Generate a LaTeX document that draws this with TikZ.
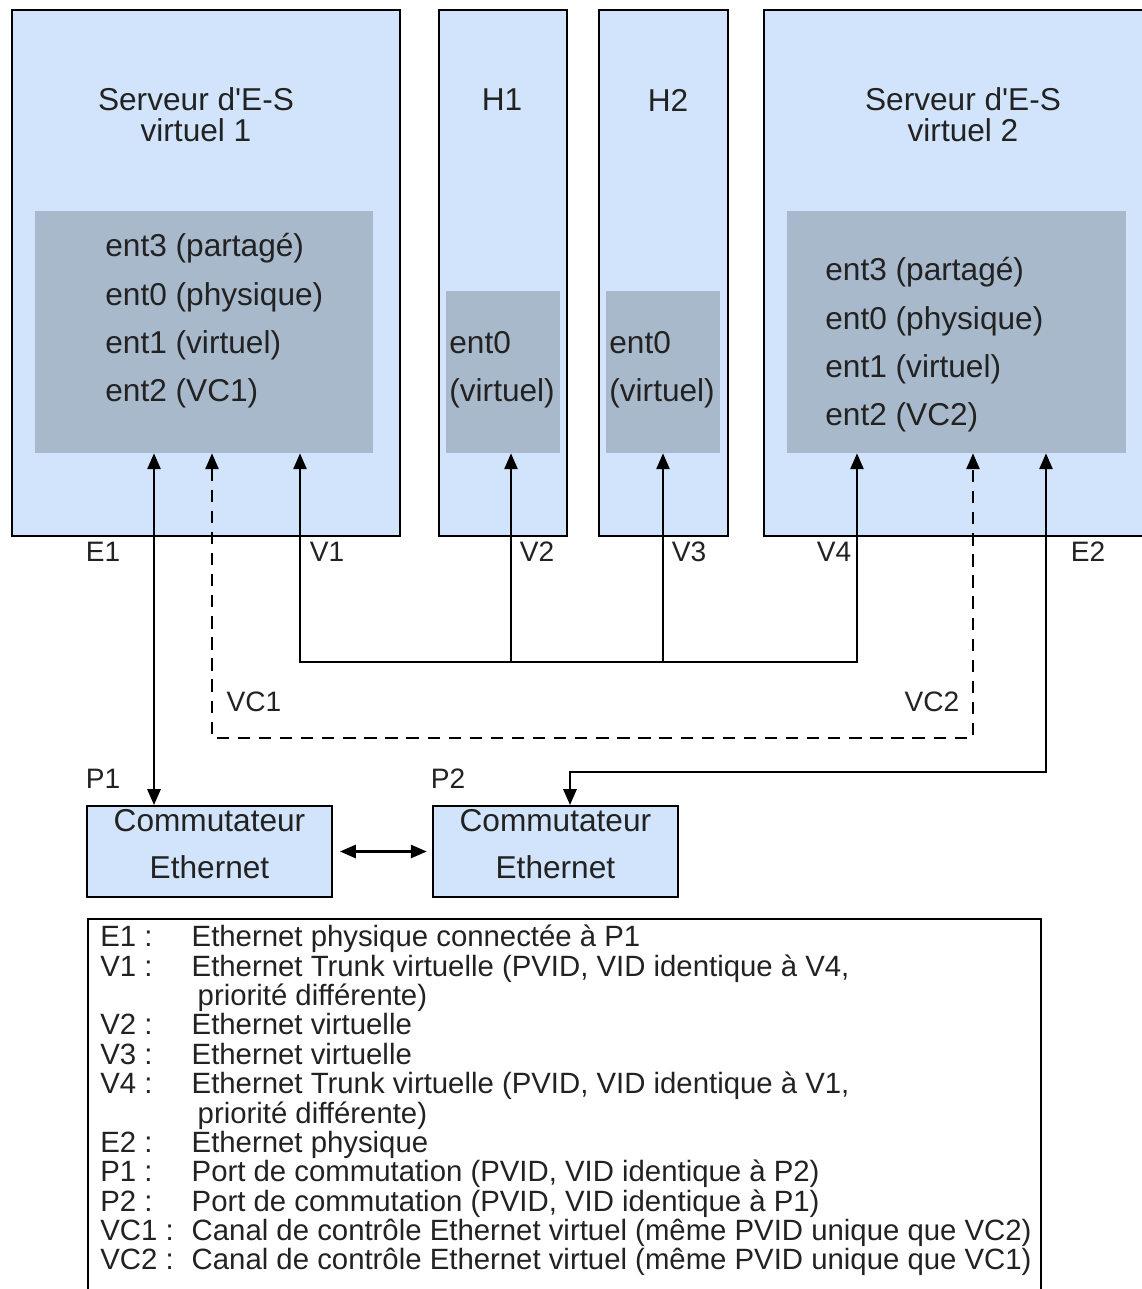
\documentclass[tikz,border=0pt]{standalone}
\usepackage{fontspec}
\setmainfont{Liberation Sans}
\usetikzlibrary{arrows.meta, positioning}

\definecolor{lparblue}{RGB}{209,228,252}
\definecolor{adaptgray}{RGB}{169,185,204}
\definecolor{inktext}{RGB}{34,34,34}

\newcommand{\pxu}{0.02cm}
\newcommand{\lgitem}[2]{\makebox[52pt][l]{#1}#2}
\newcommand{\lgcont}[1]{\makebox[52pt][l]{}\hspace{3.4pt}#1}

\tikzstyle{partition} = [rectangle, draw=black, line width=1.1pt, fill=lparblue, inner sep=0pt]
\tikzstyle{adapters} = [rectangle, fill=adaptgray, inner sep=0pt]
\tikzstyle{switchbox} = [rectangle, draw=black, line width=1.1pt, fill=lparblue, minimum width=245*\pxu, minimum height=91*\pxu, inner sep=0pt]
\tikzstyle{legendbox} = [rectangle, draw=black, line width=1.1pt, inner sep=0pt]
\tikzstyle{partname} = [align=center, text=inktext, font=\fontsize{18}{17.6}\selectfont, inner sep=0pt]
\tikzstyle{adtext} = [align=left, anchor=west, text=inktext, font=\fontsize{18}{27.5}\selectfont, inner sep=0pt]
\tikzstyle{swtext} = [align=center, text=inktext, font=\fontsize{18}{26.7}\selectfont, inner sep=0pt]
\tikzstyle{portlbl} = [text=inktext, font=\fontsize{16}{16}\selectfont, inner sep=0pt]
\tikzstyle{legendtext} = [align=left, text=inktext, font=\fontsize{16.7}{16.7}\selectfont, inner sep=0pt]
\tikzstyle{arrow} = [line width=1.2pt, -{Triangle[length=9pt,width=7.5pt]}]
\tikzstyle{dblarrow} = [line width=1.2pt, {Triangle[length=9pt,width=7.5pt]}-{Triangle[length=9pt,width=7.5pt]}]

\begin{document}
\begin{tikzpicture}[x=\pxu, y=-\pxu]

\clip (0,0) rectangle (1142,1289);

% Partitions
\node (vios1) [partition, minimum width=388*\pxu, minimum height=526*\pxu] at (206,273) {};
\node (h1) [partition, minimum width=128*\pxu, minimum height=526*\pxu] at (503,273) {};
\node (h2) [partition, minimum width=129*\pxu, minimum height=526*\pxu] at (663.5,273) {};
\node (vios2) [partition, minimum width=400*\pxu, minimum height=526*\pxu] at (964,273) {};

% Adapters
\node (vios1in) [adapters, minimum width=338*\pxu, minimum height=242*\pxu] at (204,332) {};
\node (h1in) [adapters, minimum width=114*\pxu, minimum height=162*\pxu] at (503,372) {};
\node (h2in) [adapters, minimum width=114*\pxu, minimum height=162*\pxu] at (663,372) {};
\node (vios2in) [adapters, minimum width=339*\pxu, minimum height=242*\pxu] at (956.5,332) {};

% Names
\node (vios1name) [partname] at (196,115) {Serveur d\textquotesingle E-S\\virtuel 1};
\node (h1name) [partname] at (502,100) {H1};
\node (h2name) [partname] at (668,100) {H2};
\node (vios2name) [partname] at (963,115) {Serveur d\textquotesingle E-S\\virtuel 2};

\node (vios1txt) [adtext] at (105,321) {ent3 (partagé)\\ent0 (physique)\\ent1 (virtuel)\\ent2 (VC1)};
\node (h1txt) [adtext] at (449,370) {ent0\\(virtuel)};
\node (h2txt) [adtext] at (609,370) {ent0\\(virtuel)};
\node (vios2txt) [adtext] at (825,345) {ent3 (partagé)\\ent0 (physique)\\ent1 (virtuel)\\ent2 (VC2)};

% Switches
\node (sw1) [switchbox] at (209.5,851.5) {};
\node (sw2) [switchbox, right=1.98cm of sw1] {};
\node (sw1txt) [swtext] at ([yshift=0.15cm]sw1.center) {Commutateur\\Ethernet};
\node (sw2txt) [swtext] at ([yshift=0.15cm]sw2.center) {Commutateur\\Ethernet};

% Port labels
\node (e1lbl) [portlbl] at (103,552) {E1};
\node (v1lbl) [portlbl] at (327,552) {V1};
\node (v2lbl) [portlbl] at (537,552) {V2};
\node (v3lbl) [portlbl] at (689,552) {V3};
\node (v4lbl) [portlbl] at (834,552) {V4};
\node (e2lbl) [portlbl] at (1088,552) {E2};
\node (vc1lbl) [portlbl] at (254,702) {VC1};
\node (vc2lbl) [portlbl] at (932,702) {VC2};
\node (p1lbl) [portlbl] at (103,779) {P1};
\node (p2lbl) [portlbl] at (448,779) {P2};

% Link positions
\coordinate (e1x) at (154,0);
\coordinate (vc1x) at (212,0);
\coordinate (v1x) at (300,0);
\coordinate (v2x) at (511,0);
\coordinate (v3x) at (663,0);
\coordinate (v4x) at (857,0);
\coordinate (vc2x) at (973,0);
\coordinate (e2x) at (1046,0);
\coordinate (vbus) at (0,662);
\coordinate (vcbus) at (0,738);
\coordinate (e2bend) at (570,772);

% Arrows
\draw [dblarrow] (e1x |- sw1.north) -- (e1x |- vios1in.south);
\draw [dblarrow, dash pattern=on 7pt off 5pt] (vc1x |- vios1in.south) -- (vc1x |- vcbus) -- (vc2x |- vcbus) -- (vc2x |- vios2in.south);
\draw [dblarrow] (v1x |- vios1in.south) -- (v1x |- vbus) -- (v4x |- vbus) -- (v4x |- vios2in.south);
\draw [arrow] (v2x |- vbus) -- (v2x |- h1in.south);
\draw [arrow] (v3x |- vbus) -- (v3x |- h2in.south);
\draw [dblarrow] (e2x |- vios2in.south) -- (e2x |- e2bend) -- (e2bend) -- (e2bend |- sw2.north);
\draw [dblarrow, shorten <=4pt, shorten >=3pt] (sw1.east) -- (sw2.west);

% Legend
\node (legend) [legendbox, anchor=north west, minimum width=953*\pxu, minimum height=400*\pxu] at (87,918) {};
\node (legendtxt) [legendtext, anchor=north west] at (100,925) {%
\lgitem{E1 :}{Ethernet physique connectée à P1}\\
\lgitem{V1 :}{Ethernet Trunk virtuelle (PVID, VID identique à V4,}\\
\lgcont{priorité différente)}\\
\lgitem{V2 :}{Ethernet virtuelle}\\
\lgitem{V3 :}{Ethernet virtuelle}\\
\lgitem{V4 :}{Ethernet Trunk virtuelle (PVID, VID identique à V1,}\\
\lgcont{priorité différente)}\\
\lgitem{E2 :}{Ethernet physique}\\
\lgitem{P1 :}{Port de commutation (PVID, VID identique à P2)}\\
\lgitem{P2 :}{Port de commutation (PVID, VID identique à P1)}\\
\lgitem{VC1 :}{Canal de contrôle Ethernet virtuel (même PVID unique que VC2)}\\
\lgitem{VC2 :}{Canal de contrôle Ethernet virtuel (même PVID unique que VC1)}};

\end{tikzpicture}
\end{document}
